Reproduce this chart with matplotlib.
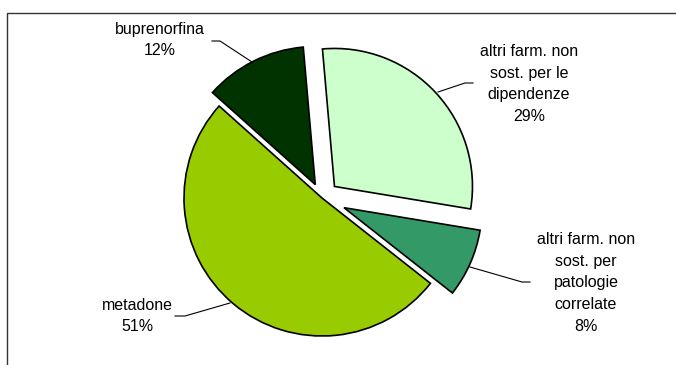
import matplotlib.pyplot as plt
from matplotlib.patches import Rectangle

plt.rcParams['font.family'] = ['Liberation Sans', 'DejaVu Sans']

# Dati del grafico (ordine in senso orario dalle ore 12)
labels = ['altri farm. non\nsost. per le\ndipendenze',
          'altri farm. non\nsost. per\npatologie\ncorrelate',
          'metadone',
          'buprenorfina']
values = [29, 8, 51, 12]
colors = ['#CCFFCC', '#339966', '#99CC00', '#003300']

# Geometria in pixel (asse = figura intera, y verso l'alto)
W, H = 676, 365
CENTER = (322, H - 198)
RADIUS = 138
explode = [17, 24, 0, 15]

# Posizioni etichette e linee guida (pixel, y dall'alto)
label_pos = [(529, 84), (586, 283), (137, 316), (160, 40)]
leaders = [[(473, 83), (465, 83), (438, 92)],
           [(530, 282), (522, 282), (470, 267)],
           [(175, 316), (185, 316), (230, 303)],
           [(212, 41), (220, 41), (252, 62)]]

fig = plt.figure(figsize=(W / 100, H / 100), dpi=100)
ax = fig.add_axes([0, 0, 1, 1])

ax.pie(values, colors=colors, explode=explode, center=CENTER, radius=RADIUS,
       startangle=95, counterclock=False,
       wedgeprops={'edgecolor': 'black', 'linewidth': 1.2})

ax.set_xlim(0, W)
ax.set_ylim(0, H)
ax.set_aspect('auto')
ax.axis('off')

# cornice del grafico
ax.add_patch(Rectangle((7, -10), W, H - 13 + 10, fill=False,
                       edgecolor='#333333', linewidth=1.0, clip_on=False))

for lab, v, (x, y) in zip(labels, values, label_pos):
    ax.text(x, H - y, f'{lab}\n{v}%', ha='center', va='center',
            multialignment='center', fontsize=11.5, linespacing=1.58)

for pts in leaders:
    xs = [p[0] for p in pts]
    ys = [H - p[1] for p in pts]
    ax.plot(xs, ys, color='black', linewidth=0.8)

fig.savefig('out.png', dpi=100)
